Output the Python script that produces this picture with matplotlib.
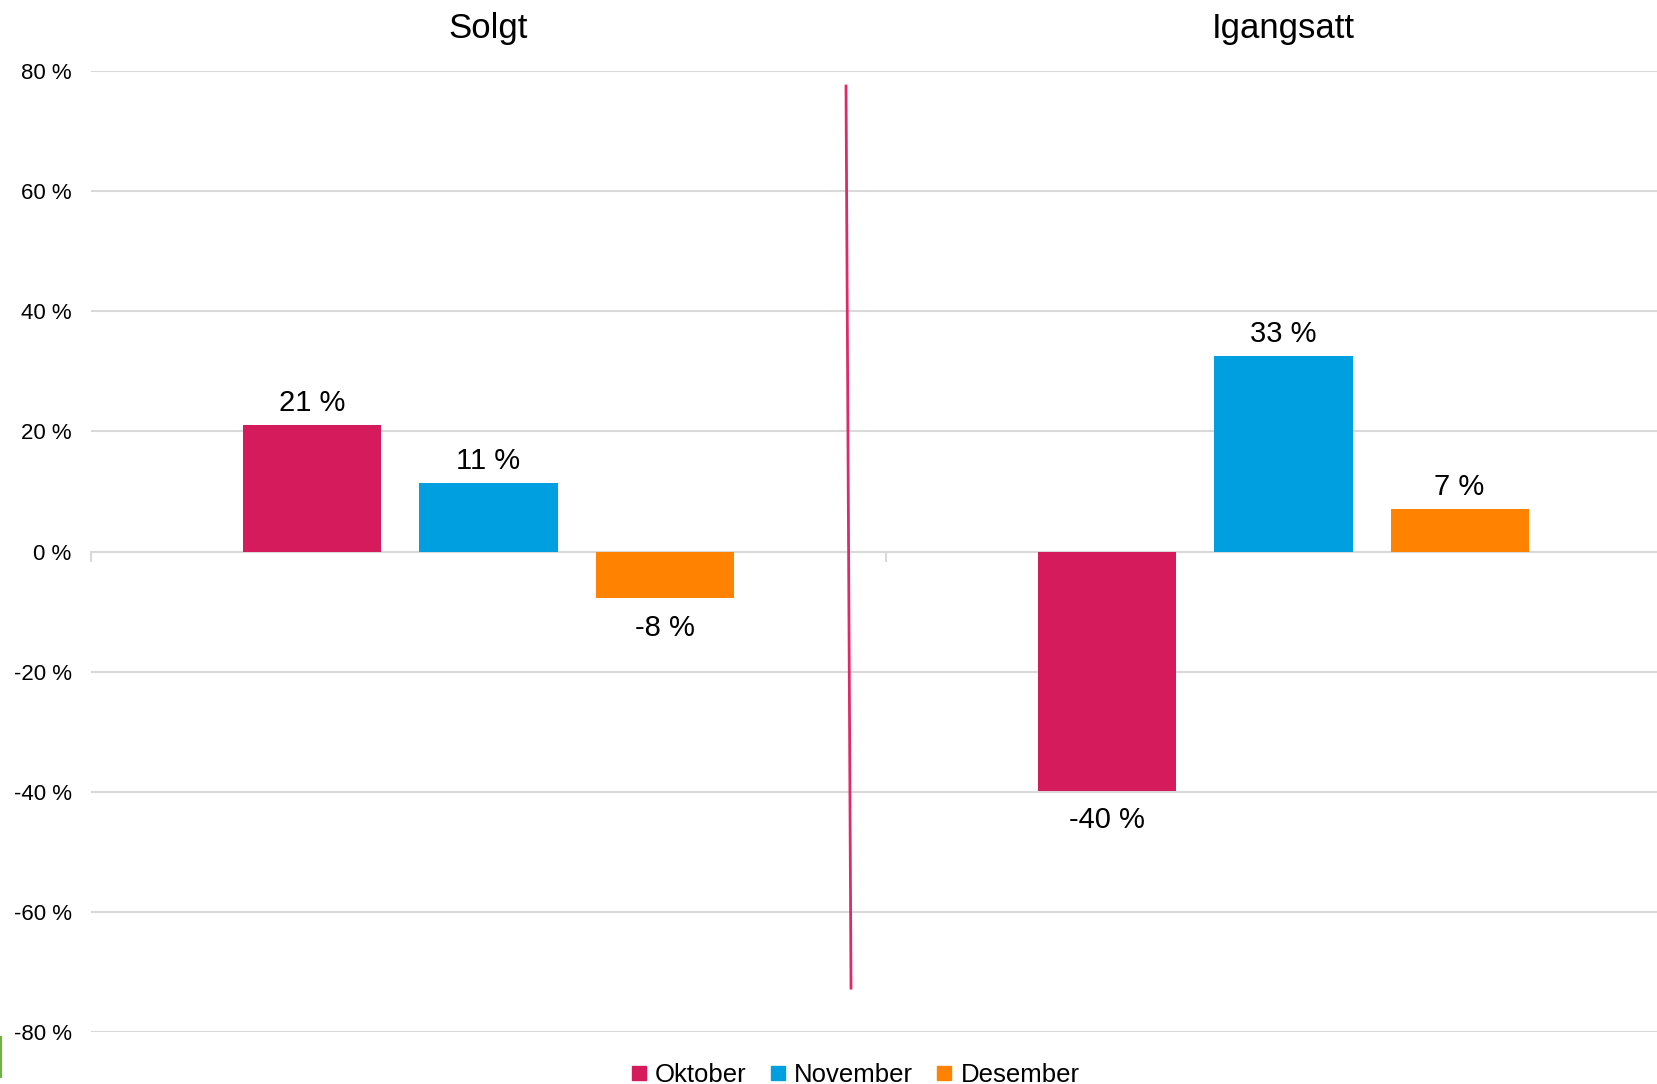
import numpy as np
from matplotlib import pyplot as plt
from matplotlib.lines import Line2D

plt.rcParams['font.family'] = ['Liberation Sans', 'DejaVu Sans']

# data
categories = ['Solgt', 'Igangsatt']
months = ['Oktober', 'November', 'Desember']
oktober = [21.1, -39.9]
november = [11.4, 32.6]
desember = [-7.8, 7.1]
yticks = [-80, -60, -40, -20, 0, 20, 40, 60, 80]

colors = ['#D51B5B', '#009FDF', '#FF8200']
grid_col = '#D9D9D9'

fig = plt.figure(figsize=(16.57, 10.84), dpi=100)
ax = fig.add_axes([91 / 1657, 52 / 1084, 1590 / 1657, 961 / 1084])

x = np.arange(len(categories))
width = 0.1736
offsets = [-0.2215, 0.0, 0.2215]
series = [oktober, november, desember]

for vals, off, col, name in zip(series, offsets, colors, months):
    bars = ax.bar(x + off, vals, width, color=col, label=name, zorder=3)
    for b, v in zip(bars, vals):
        lbl = '{:.0f} %'.format(v)
        if v >= 0:
            ax.annotate(lbl, (b.get_x() + b.get_width() / 2, v),
                        xytext=(0, 10), textcoords='offset points',
                        ha='center', va='baseline', fontsize=21)
        else:
            ax.annotate(lbl, (b.get_x() + b.get_width() / 2, v),
                        xytext=(0, -11), textcoords='offset points',
                        ha='center', va='top', fontsize=21)

ax.set_xlim(-0.5, 1.5)
ax.set_ylim(-80, 80)
ax.set_yticks(yticks)
ax.set_yticklabels(['{} %'.format(t) for t in yticks], fontsize=16)
ax.tick_params(axis='y', length=0, pad=14)
ax.yaxis.grid(True, color=grid_col, linewidth=1.5, zorder=0)
ax.set_axisbelow(True)

for s in ['left', 'right', 'top']:
    ax.spines[s].set_visible(False)
ax.spines['bottom'].set_position(('data', 0))
ax.spines['bottom'].set_color(grid_col)
ax.spines['bottom'].set_linewidth(1.5)
ax.set_xticks([-0.5, 0.5, 1.5])
ax.set_xticklabels([])
ax.tick_params(axis='x', length=7.5, width=1.5, color=grid_col, direction='out')

# category titles above the plot
for i, c in enumerate(categories):
    ax.text(i, 1.034, c, transform=ax.get_xaxis_transform(),
            ha='center', va='baseline', fontsize=25)

# hand-drawn divider line between the groups
ax.plot([0.4497, 0.456], [77.5, -72.7], color='#DE2A6A', linewidth=2, zorder=4)

# small green artifact at the bottom-left edge
fig.add_artist(Line2D([0.0008, 0.0008], [1 - 1077 / 1084, 1 - 1037 / 1084],
                      color='#6DB33F', linewidth=1.5))

handles = [Line2D([], [], marker='s', linestyle='none', markersize=9.5,
                  markerfacecolor=c, markeredgecolor=c) for c in colors]
fig.legend(handles, months, loc='center', ncol=3, frameon=False,
           bbox_to_anchor=(855 / 1657, 1 - 1075 / 1084), fontsize=18.5,
           handlelength=0.65, handletextpad=0.3, columnspacing=0.9,
           borderaxespad=0, borderpad=0)

plt.savefig('out.png', dpi=100)
